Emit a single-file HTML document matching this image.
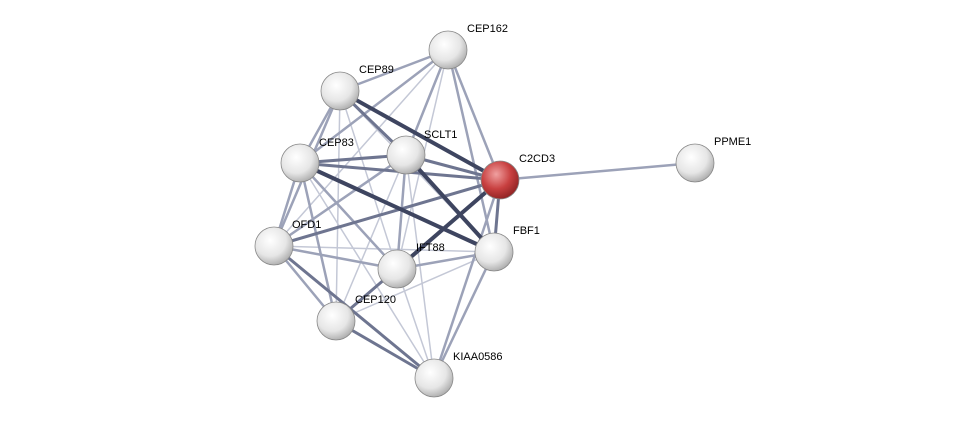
<!DOCTYPE html>
<html><head><meta charset="utf-8"><style>
body{margin:0;background:#fff;}
svg{display:block;}
text{font-family:"Liberation Sans",sans-serif;font-size:11px;fill:#000;}
</style></head><body>
<svg width="976" height="423" viewBox="0 0 976 423" xmlns="http://www.w3.org/2000/svg">
<defs>
<radialGradient id="g" cx="0.4" cy="0.35" r="0.7">
<stop offset="0" stop-color="#ffffff"/><stop offset="0.6" stop-color="#e6e6e6"/><stop offset="1" stop-color="#a8a8a8"/>
</radialGradient>
<radialGradient id="r" cx="0.4" cy="0.35" r="0.7">
<stop offset="0" stop-color="#f0a0a0"/><stop offset="0.55" stop-color="#c84040"/><stop offset="1" stop-color="#8a2020"/>
</radialGradient>
</defs>
<g stroke-linecap="round" fill="none">
<!-- light edges -->
<g stroke="#c4c8d6" stroke-width="1.5">
<line x1="340" y1="91" x2="397" y2="269"/>
<line x1="340" y1="91" x2="494" y2="252"/>
<line x1="448" y1="50" x2="274" y2="246"/>
<line x1="448" y1="50" x2="397" y2="269"/>
<line x1="406" y1="155" x2="434" y2="378"/>
<line x1="300" y1="163" x2="434" y2="378"/>
<line x1="274" y1="246" x2="494" y2="252"/>
<line x1="336" y1="321" x2="494" y2="252"/>
<line x1="397" y1="269" x2="434" y2="378"/>
<line x1="340" y1="91" x2="336" y2="321"/>
<line x1="406" y1="155" x2="336" y2="321"/>
</g>
<g stroke="#9ca2b8" stroke-width="2.5">
<line x1="448" y1="50" x2="340" y2="91"/>
<line x1="448" y1="50" x2="300" y2="163"/>
<line x1="448" y1="50" x2="406" y2="155"/>
<line x1="448" y1="50" x2="500" y2="180"/>
<line x1="448" y1="50" x2="494" y2="252"/>
<line x1="340" y1="91" x2="300" y2="163"/>
<line x1="340" y1="91" x2="274" y2="246"/>
<line x1="300" y1="163" x2="274" y2="246"/>
<line x1="300" y1="163" x2="336" y2="321"/>
<line x1="300" y1="163" x2="397" y2="269"/>
<line x1="274" y1="246" x2="336" y2="321"/>
<line x1="274" y1="246" x2="397" y2="269"/>
<line x1="274" y1="246" x2="406" y2="155"/>
<line x1="397" y1="269" x2="494" y2="252"/>
<line x1="397" y1="269" x2="336" y2="321"/>
<line x1="494" y1="252" x2="434" y2="378"/>
<line x1="500" y1="180" x2="434" y2="378"/>
<line x1="406" y1="155" x2="397" y2="269"/>
<line x1="500" y1="180" x2="695" y2="163"/>
</g>
<g stroke="#6e7590" stroke-width="3">
<line x1="300" y1="163" x2="406" y2="155"/>
<line x1="300" y1="163" x2="500" y2="180"/>
<line x1="274" y1="246" x2="500" y2="180"/>
<line x1="406" y1="155" x2="500" y2="180"/>
<line x1="500" y1="180" x2="494" y2="252"/>
<line x1="336" y1="321" x2="434" y2="378"/>
<line x1="274" y1="246" x2="434" y2="378"/>
<line x1="500" y1="180" x2="336" y2="321"/>
<line x1="340" y1="91" x2="406" y2="155"/>
</g>
<g stroke="#3e4560" stroke-width="4">
<line x1="340" y1="91" x2="500" y2="180"/>
<line x1="406" y1="155" x2="494" y2="252"/>
<line x1="300" y1="163" x2="494" y2="252"/>
<line x1="500" y1="180" x2="397" y2="269"/>
</g>
</g>
<g stroke="#888" stroke-width="0.8">
<circle cx="448" cy="50" r="19" fill="url(#g)"/>
<circle cx="340" cy="91" r="19" fill="url(#g)"/>
<circle cx="406" cy="155" r="19" fill="url(#g)"/>
<circle cx="300" cy="163" r="19" fill="url(#g)"/>
<circle cx="500" cy="180" r="19" fill="url(#r)"/>
<circle cx="695" cy="163" r="19" fill="url(#g)"/>
<circle cx="274" cy="246" r="19" fill="url(#g)"/>
<circle cx="397" cy="269" r="19" fill="url(#g)"/>
<circle cx="494" cy="252" r="19" fill="url(#g)"/>
<circle cx="336" cy="321" r="19" fill="url(#g)"/>
<circle cx="434" cy="378" r="19" fill="url(#g)"/>
</g>
<text x="467" y="32">CEP162</text>
<text x="359" y="73">CEP89</text>
<text x="424" y="138">SCLT1</text>
<text x="319" y="146">CEP83</text>
<text x="519" y="162">C2CD3</text>
<text x="714" y="145">PPME1</text>
<text x="292" y="228">OFD1</text>
<text x="416" y="251">IFT88</text>
<text x="513" y="234">FBF1</text>
<text x="355" y="303">CEP120</text>
<text x="453" y="360">KIAA0586</text>
</svg>
</body></html>
